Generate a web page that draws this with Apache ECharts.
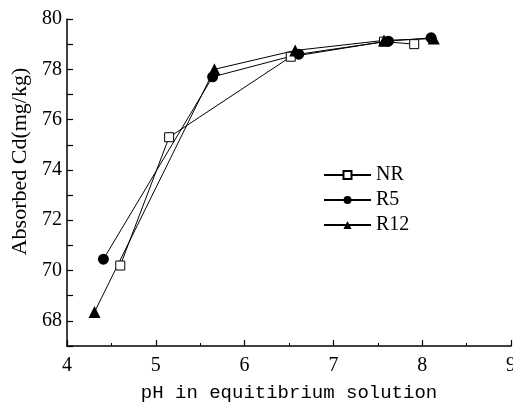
<!DOCTYPE html>
<html>
<head>
<meta charset="utf-8">
<script src="https://cdn.jsdelivr.net/npm/echarts@6/dist/echarts.min.js"></script>
<style>
html,body{margin:0;padding:0;background:#fff;}
#main{width:513px;height:403px;}
</style>
</head>
<body>
<div id="main"></div>
<script>
// data
var nrX = [4.60, 5.15, 6.52, 7.57, 7.91];
var nrY = [70.2, 75.3, 78.5, 79.1, 79.0];
var r5X = [4.41, 5.64, 6.61, 7.62, 8.10];
var r5Y = [70.45, 77.7, 78.6, 79.12, 79.25];
var r12X = [4.31, 5.66, 6.57, 7.57, 8.13];
var r12Y = [68.35, 78.0, 78.75, 79.15, 79.22];
var seriesNames = ['NR', 'R5', 'R12'];

function pairs(xs, ys) {
    var out = [];
    for (var i = 0; i < xs.length; i++) out.push([xs[i], ys[i]]);
    return out;
}

var serif = 'Liberation Serif';
var myChart = echarts.init(document.getElementById('main'));
var option = {
    backgroundColor: '#fff',
    animation: false,
    grid: { left: 67, right: 2, top: 19, bottom: 57, outerBoundsMode: 'none', containLabel: false },
    legend: {
        data: seriesNames,
        orient: 'vertical',
        left: 318,
        top: 160,
        itemWidth: 47,
        itemHeight: 10,
        itemGap: 5,
        textStyle: { fontFamily: serif, fontSize: 20, color: '#000' }
    },
    xAxis: {
        type: 'value',
        min: 4, max: 9, interval: 1,
        name: 'pH in equitibrium solution',
        nameLocation: 'middle',
        nameGap: 37,
        nameTextStyle: { fontFamily: 'Liberation Mono', fontSize: 19, color: '#000' },
        axisLine: { lineStyle: { color: '#000', width: 1.5 } },
        axisTick: { inside: true, length: 6, lineStyle: { color: '#000', width: 1.2 } },
        minorTick: { show: true, splitNumber: 2, length: 3, lineStyle: { color: '#000' } },
        axisLabel: { fontFamily: serif, fontSize: 20, color: '#000', margin: 10 },
        splitLine: { show: false }
    },
    yAxis: {
        type: 'value',
        min: 67, max: 80,
        interval: 1,
        name: 'Absorbed Cd(mg/kg)',
        nameLocation: 'middle',
        nameGap: 35,
        nameTextStyle: { fontFamily: serif, fontSize: 22, color: '#000', padding: [0, 0, 0, 42] },
        axisLine: { show: true, lineStyle: { color: '#000', width: 1.5 } },
        axisTick: {
            inside: true,
            length: 6,
            lineStyle: { color: '#000', width: 1.2 }
        },
        axisLabel: {
            fontFamily: serif, fontSize: 20, color: '#000', margin: 5,
            formatter: function (v) { return (v % 2 === 0) ? String(v) : ''; }
        },
        splitLine: { show: false }
    },
    series: [
        {
            name: 'NR', type: 'line', data: pairs(nrX, nrY),
            symbol: 'rect', symbolSize: 9,
            itemStyle: { color: '#fff', borderColor: '#000', borderWidth: 1 },
            lineStyle: { color: '#000', width: 1 }
        },
        {
            name: 'R5', type: 'line', data: pairs(r5X, r5Y),
            symbol: 'circle', symbolSize: 11,
            itemStyle: { color: '#000' },
            lineStyle: { color: '#000', width: 1 }
        },
        {
            name: 'R12', type: 'line', data: pairs(r12X, r12Y),
            symbol: 'triangle', symbolSize: 12,
            itemStyle: { color: '#000' },
            lineStyle: { color: '#000', width: 1 }
        }
    ]
};
myChart.setOption(option);
</script>
</body>
</html>
